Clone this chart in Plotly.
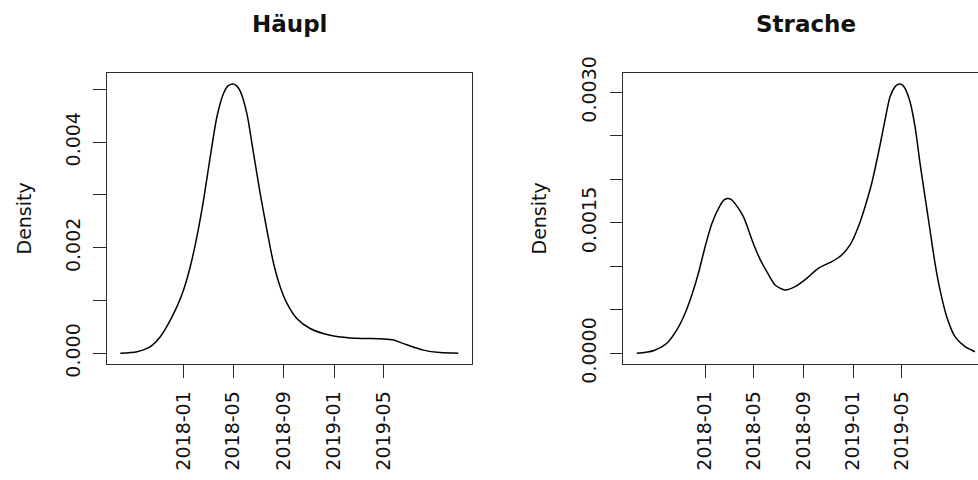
import pandas as pd
import plotly.graph_objects as go

W, H = 978, 480
ORIGIN = pd.Timestamp("2018-01-01")

# Kernel density estimates of comment dates (x in days after 2018-01-01, density per day)
haeupl_days = [-153.2, -112.8, -80.6, -56.4, -36.3, -16.0, 0.0, 16.2, 32.4, 48.4,
               64.6, 80.8, 96.8, 107.0, 118.0, 128.0, 137.0, 153.4, 169.4, 185.6,
               201.8, 217.8, 234.0, 250.2, 274.4, 306.6, 355.0, 403.4, 443.8, 484.0,
               508.2, 540.7, 580.8, 621.3, 665.5]
haeupl_density = [0.0, 0.00003, 0.000125, 0.000314, 0.000568, 0.000883, 0.00120, 0.00164,
                  0.00221, 0.00290, 0.00372, 0.00448, 0.00492, 0.00506, 0.00510, 0.00507,
                  0.00497, 0.00454, 0.00379, 0.00303, 0.00234, 0.00171, 0.00126, 0.00095,
                  0.00066, 0.00047, 0.00034, 0.00029, 0.00028, 0.00027, 0.00025, 0.00016,
                  0.00006, 0.000013, 0.0]

strache_days = [-168.4, -127.5, -94.4, -69.8, -49.3, -32.8, -16.5, 0.0, 16.5, 37.0,
                46.0, 55.0, 64.0, 74.0, 94.4, 119.1, 135.6, 152.1, 172.6, 197.2,
                221.9, 250.7, 279.3, 312.4, 337.0, 357.5, 378.0, 394.5, 411.0, 431.5,
                443.8, 456.1, 468.4, 474.5, 480.8, 487.0, 493.1, 505.4, 517.8, 530.1,
                542.4, 554.7, 567.1, 579.4, 595.9, 616.4, 641.0, 665.7]
strache_density = [0.0, 0.00003, 0.000115, 0.000268, 0.00046, 0.00067, 0.00092, 0.001225,
                   0.00149, 0.00170, 0.00176, 0.00178, 0.00177, 0.00172, 0.00157, 0.00126,
                   0.00108, 0.00094, 0.000785, 0.000728, 0.000766, 0.000862, 0.000977,
                   0.001053, 0.00113, 0.001245, 0.001455, 0.001685, 0.001954, 0.002394,
                   0.002682, 0.002949, 0.003064, 0.003088, 0.003096, 0.003082, 0.003046,
                   0.002892, 0.002605, 0.002184, 0.0018, 0.001417, 0.001034, 0.000728,
                   0.000421, 0.000191, 0.000076, 0.000018]

month_ticks = ["2018-01-01", "2018-05-01", "2018-09-01", "2019-01-01", "2019-05-01"]
month_labels = ["2018-01", "2018-05", "2018-09", "2019-01", "2019-05"]

haeupl_yticks = [0.0, 0.001, 0.002, 0.003, 0.004, 0.005]
haeupl_ylabels = ["0.000", "", "0.002", "", "0.004", ""]
strache_yticks = [0.0, 0.0005, 0.001, 0.0015, 0.002, 0.0025, 0.003]
strache_ylabels = ["0.0000", "", "", "0.0015", "", "", "0.0030"]


def to_dates(days):
    return ORIGIN + pd.to_timedelta(days, unit="D")


FONT = "DejaVu Sans"
INK = "#111111"
AXIS = "#2b2b2b"

fig = go.Figure()
for days, dens, xa, ya in [(haeupl_days, haeupl_density, "x", "y"),
                           (strache_days, strache_density, "x2", "y2")]:
    fig.add_trace(go.Scatter(x=to_dates(days), y=dens, mode="lines",
                             line=dict(color="black", width=1.5, shape="spline", smoothing=0.7),
                             xaxis=xa, yaxis=ya, hoverinfo="skip"))

ydom = [(480 - 364) / H, (480 - 73.3) / H]

common_x = dict(type="date", showline=True, linecolor=AXIS, linewidth=1.3,
                mirror=True, ticks="outside", ticklen=12.5, tickwidth=1.3,
                tickcolor=AXIS, tickvals=month_ticks, ticktext=month_labels,
                tickangle=-90, tickfont=dict(family=FONT, size=19, color=INK),
                showgrid=False, zeroline=False, ticklabelstandoff=6, automargin=False)
common_y = dict(showline=True, linecolor=AXIS, linewidth=1.3,
                ticks="outside", ticklen=12.5, tickwidth=1.3, tickcolor=AXIS,
                tickangle=-90, tickfont=dict(family=FONT, size=19, color=INK),
                showgrid=False, zeroline=False, domain=ydom, ticklabelstandoff=6,
                automargin=False)

fig.update_layout(
    width=W, height=H, margin=dict(l=0, r=0, t=0, b=0, pad=0),
    paper_bgcolor="white", plot_bgcolor="white", showlegend=False,
    xaxis=dict(common_x, domain=[106.8 / W, 471.8 / W], anchor="y",
               range=[to_dates([-185.9])[0], to_dates([698.2])[0]]),
    yaxis=dict(common_y, anchor="x", mirror=True, range=[-0.000203, 0.005303],
               tickvals=haeupl_yticks, ticktext=haeupl_ylabels),
    xaxis2=dict(common_x, domain=[623.3 / W, 1.0], anchor="y2",
                range=[to_dates([-201.8])[0], to_dates([673.1])[0]]),
    yaxis2=dict(common_y, anchor="x2", mirror=False, range=[-0.000123, 0.003218],
                tickvals=strache_yticks, ticktext=strache_ylabels),
)

titles = [("Häupl", 289.5), ("Strache", 806.0)]
for text, xc in titles:
    fig.add_annotation(text=f"<b>{text}</b>", x=xc / W, y=1 - 24 / H, xref="paper", yref="paper",
                       showarrow=False, xanchor="center", yanchor="middle",
                       font=dict(family=FONT, size=23, color=INK))
for xc in (23, 538):
    fig.add_annotation(text="Density", x=xc / W, y=(480 - 218.5) / H, xref="paper", yref="paper",
                       showarrow=False, textangle=-90, xanchor="center", yanchor="middle",
                       font=dict(family=FONT, size=19, color=INK))

fig.write_html("out.html")
